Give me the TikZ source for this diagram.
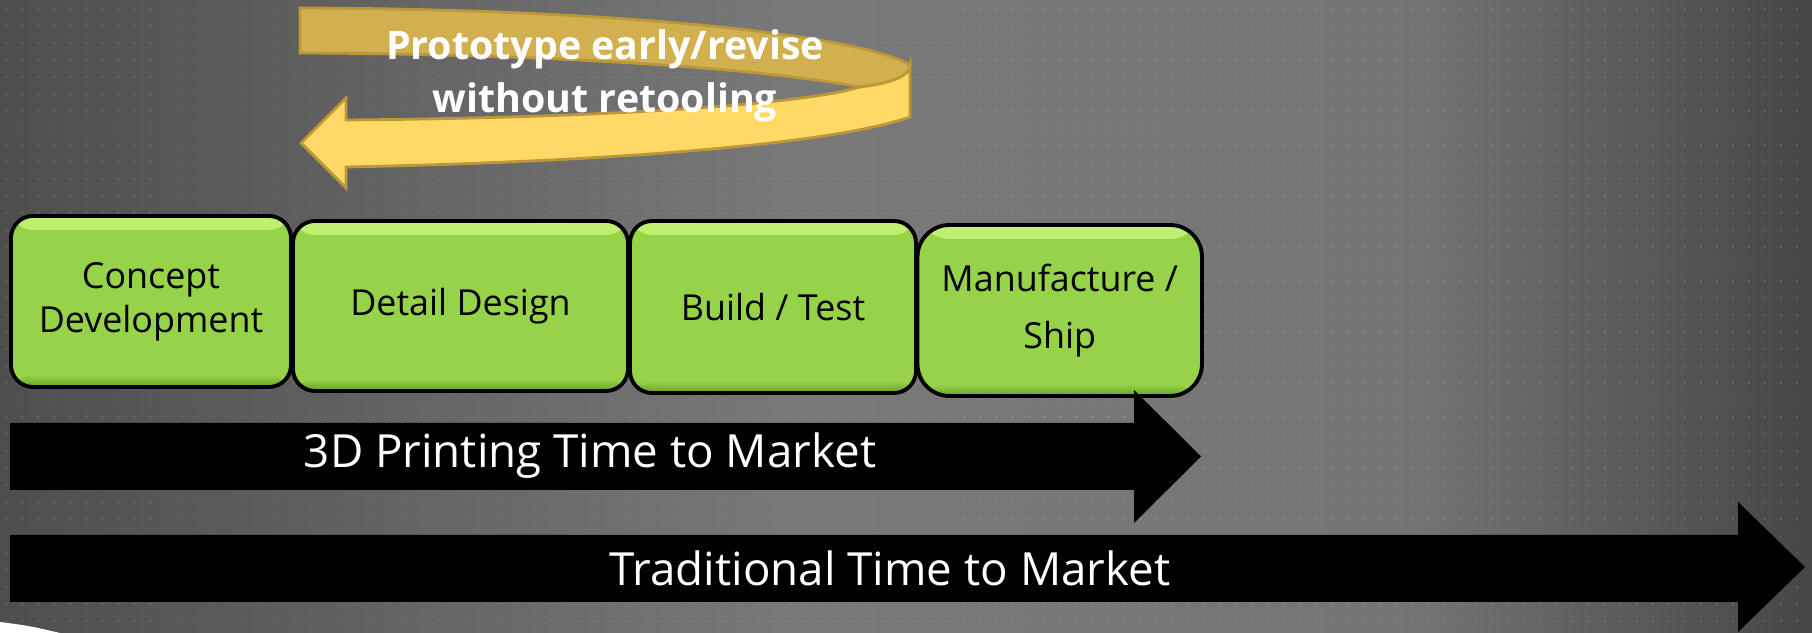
\documentclass[tikz,border=0pt]{standalone}
\usepackage{fontspec}
\setmainfont{Open Sans}
\usepackage{tikz}

\definecolor{bgedge}{RGB}{78,78,78}
\definecolor{bgmid}{RGB}{121,121,121}
\definecolor{bgmid2}{RGB}{117,117,117}
\definecolor{bgright}{RGB}{70,70,70}
\definecolor{stagegreen}{RGB}{150,211,72}
\definecolor{stagehi}{RGB}{195,240,115}
\definecolor{stagedk}{RGB}{105,160,40}
\definecolor{loopfront}{RGB}{255,217,102}
\definecolor{loopback}{RGB}{210,176,80}
\definecolor{loopline}{RGB}{188,152,58}

\begin{document}
\begin{tikzpicture}[y=-1cm,
    stage/.style={draw=black, line width=1.1pt, fill=stagegreen, rounded corners=0.22cm,
        inner sep=0pt, align=center, text=black, font=\fontsize{10.2}{12.6}\selectfont,
        path picture={
            \shade[top color=stagehi, bottom color=stagegreen]
                (path picture bounding box.north west) rectangle ([yshift=-0.14cm]path picture bounding box.north east);
            \shade[top color=stagegreen, bottom color=stagedk]
                ([yshift=0.12cm]path picture bounding box.south west) rectangle (path picture bounding box.south east);
        }},
    timebar/.style={fill=black},
    bartext/.style={text=white, inner sep=0pt, font=\fontsize{13}{15}\selectfont},
    looptext/.style={text=white, inner sep=0pt, align=center, font=\bfseries\fontsize{11.2}{15.2}\selectfont},
    gridrow/.style={white, opacity=0.13, line width=0.7pt, dash pattern=on 0.45pt off 4.1pt}]

    \useasboundingbox (0,0) rectangle (18.12,6.33);

    \shade[left color=bgedge, right color=bgmid] (0,0) rectangle (8,6.33);
    \shade[left color=bgmid, right color=bgmid2] (8,0) rectangle (14,6.33);
    \shade[left color=bgmid2, right color=bgright] (14,0) rectangle (18.12,6.33);

    \foreach \row in {0,...,37}
        \draw[gridrow] (0.05,{0.09+0.17*\row}) -- (18.12,{0.09+0.17*\row});

    \fill[white] (0,6.22) .. controls (0.3,6.26) .. (0.60,6.33) -- (0,6.33) -- cycle;

    \filldraw[fill=loopback, draw=loopline, line width=0.8pt]
        (3.00,0.08) .. controls (6.2,0.09) and (8.6,0.35) .. (9.10,0.65)
        .. controls (9.10,0.78) and (8.85,0.84) .. (8.60,0.87)
        .. controls (7.6,0.68) and (5.5,0.54) .. (3.00,0.53) -- cycle;
    \filldraw[fill=loopfront, draw=loopline, line width=0.8pt]
        (9.10,0.65) -- (9.10,1.17)
        .. controls (8.3,1.45) and (6.0,1.62) .. (3.46,1.67)
        -- (3.46,1.88) -- (3.01,1.43) -- (3.46,0.98) -- (3.46,1.20)
        .. controls (6.0,1.18) and (8.0,1.05) .. (8.60,0.87)
        .. controls (8.85,0.84) and (9.10,0.78) .. (9.10,0.65) -- cycle;
    \node[looptext] (loop) at (6.05,0.76) {Prototype early/revise\\without retooling};

    \node[stage, minimum width=2.80cm, minimum height=1.71cm] (concept) at (1.51,3.015) {Concept\\Development};
    \node[stage, minimum width=3.35cm, minimum height=1.70cm] (detail) at (4.605,3.06) {Detail Design};
    \node[stage, minimum width=2.86cm, minimum height=1.72cm] (build) at (7.73,3.07) {Build / Test};
    \node[stage, minimum width=2.845cm, minimum height=1.71cm, rounded corners=0.32cm,
        font=\fontsize{10.2}{16.4}\selectfont] (ship) at (10.5975,3.105) {Manufacture /\\Ship};

    \fill[timebar] (0.10,4.23) -- (11.34,4.23) -- (11.34,3.90) -- (12.01,4.565)
        -- (11.34,5.23) -- (11.34,4.90) -- (0.10,4.90) -- cycle;
    \node[bartext] (fast) at (5.90,4.56) {3D Printing Time to Market};

    \fill[timebar] (0.10,5.35) -- (17.38,5.35) -- (17.38,5.02) -- (18.05,5.67)
        -- (17.38,6.32) -- (17.38,6.02) -- (0.10,6.02) -- cycle;
    \node[bartext] (slow) at (8.90,5.68) {Traditional Time to Market};
\end{tikzpicture}
\end{document}
